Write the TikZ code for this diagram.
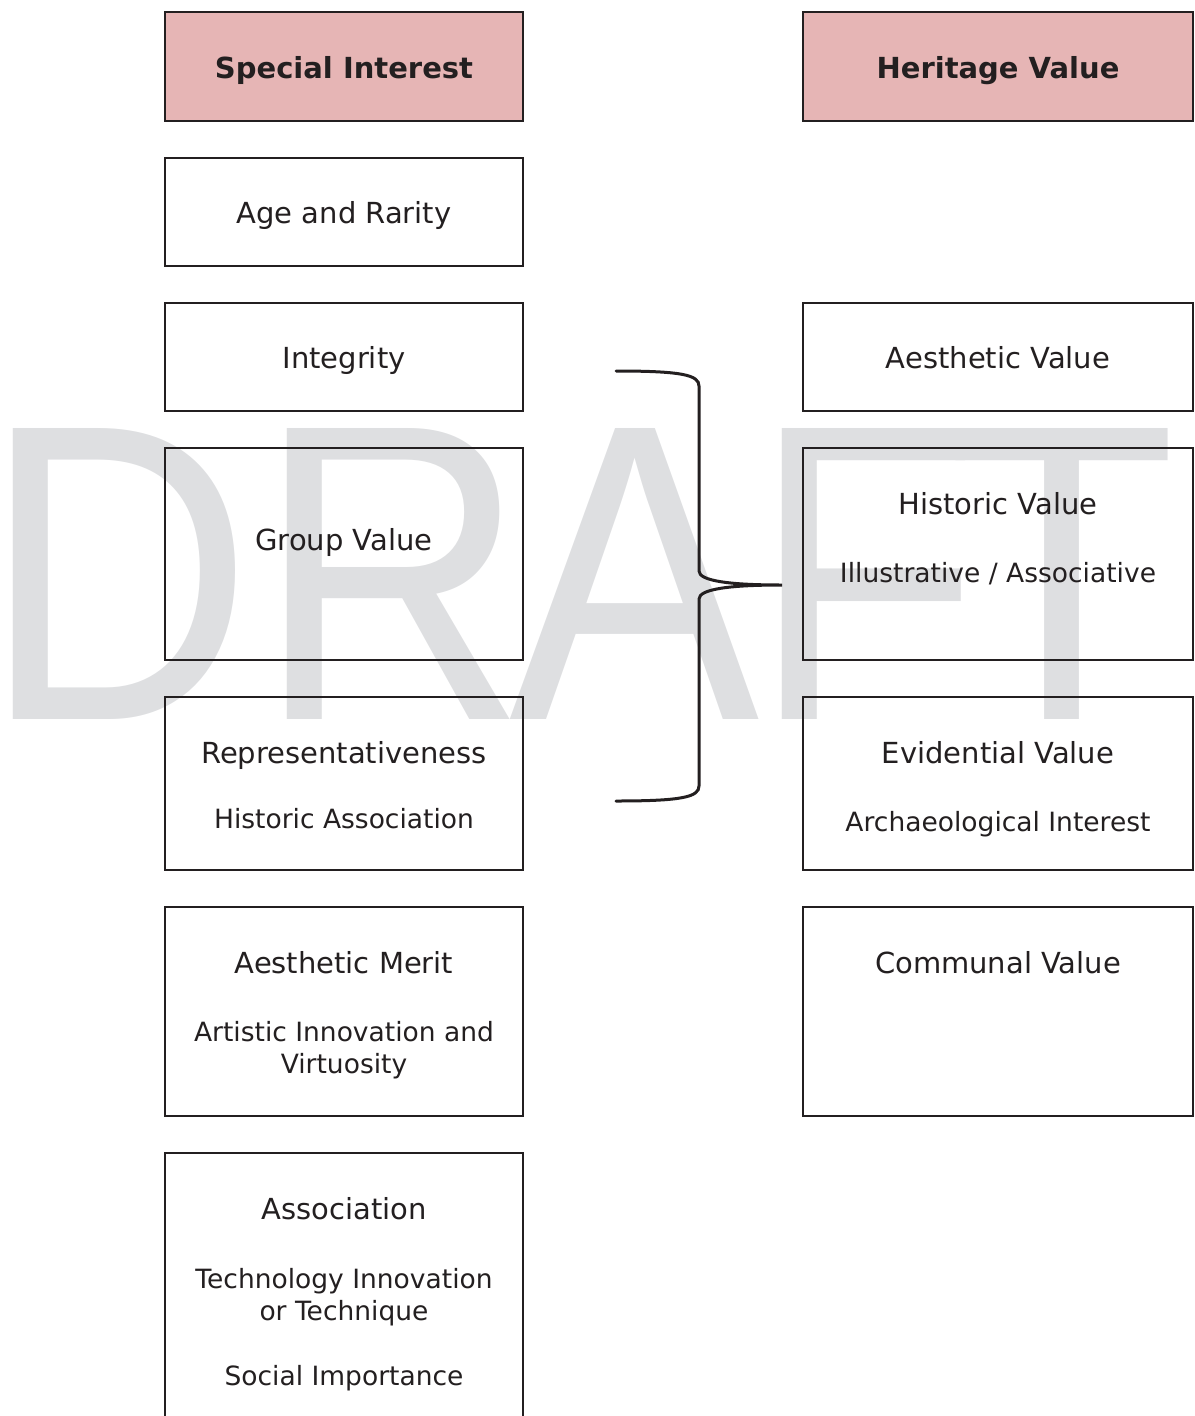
\documentclass[tikz,border=0pt]{standalone}
\usepackage{fontspec}
\setmainfont{DejaVu Sans}
\newfontfamily\markfont{Liberation Sans}
\usetikzlibrary{positioning}
\definecolor{InkDark}{HTML}{231F20}
\definecolor{HeadPink}{HTML}{E6B5B5}
\definecolor{MarkGray}{HTML}{DEDFE1}
\newcommand{\boxfont}{\fontsize{29}{35}\selectfont}
\newcommand{\smallboxfont}{\fontsize{26.5}{32.5}\selectfont}
\newcommand{\headerfont}{\fontsize{29}{35}\selectfont\bfseries}

\begin{document}
\begin{tikzpicture}[
    x=1pt, y=-1pt,
    node distance=35pt,
    box/.style={rectangle, draw=InkDark, line width=2pt, minimum width=358pt, inner sep=0pt, align=center, text height=23pt, text depth=0pt, font=\boxfont, text=InkDark},
    widebox/.style={minimum width=390pt},
    head/.style={box, fill=HeadPink, minimum height=109pt, font=\headerfont},
    boxtitle/.style={anchor=base, inner sep=0pt, font=\boxfont, text=InkDark},
    boxsub/.style={anchor=base, inner sep=0pt, align=center, font=\smallboxfont, text=InkDark},
    wmark/.style={anchor=base west, inner sep=0pt, font={\markfont\fontsize{423}{423}\selectfont}, text=MarkGray, xscale=0.887, transform shape},
    brace/.style={draw=InkDark, line width=3pt, line cap=round}
]
\useasboundingbox (0,0) rectangle (1194,1416);

% watermark
\node[wmark] (wmD) at (-18,719) {D};
\node[wmark] (wmR) at (256,719) {R};
\node[wmark] (wmA) at (509,719) {A};
\node[wmark] (wmF) at (751,719) {F};
\node[wmark] (wmT) at (947,719) {T};

% left column
\node[head] (special) at (344,66.5) {Special Interest};
\node[box, minimum height=108pt, below=of special] (age) {Age and Rarity};
\node[box, minimum height=108pt, below=of age] (integrity) {Integrity};
\node[box, minimum height=212pt, below=of integrity] (group) {};
\node[box, minimum height=173pt, below=of group] (repr) {};
\node[box, minimum height=209pt, below=of repr] (merit) {};
\node[box, minimum height=300pt, below=of merit] (assoc) {};

\node[boxtitle] (groupT) at ([yshift=-103pt]group.north) {Group Value};
\node[boxtitle] (reprT) at ([yshift=-67pt]repr.north) {Representativeness};
\node[boxsub] (reprS) at ([yshift=-132pt]repr.north) {Historic Association};
\node[boxtitle] (meritT) at ([yshift=-67pt]merit.north) {Aesthetic Merit};
\node[boxsub, anchor=north] (meritS) at ([yshift=-115pt]merit.north) {Artistic Innovation and\\Virtuosity};
\node[boxtitle] (assocT) at ([yshift=-67pt]assoc.north) {Association};
\node[boxsub, anchor=north] (assocS) at ([yshift=-116pt]assoc.north) {Technology Innovation\\or Technique};
\node[boxsub] (assocU) at ([yshift=-233pt]assoc.north) {Social Importance};

% right column
\node[head, widebox, right=278pt of special] (heritage) {Heritage Value};
\node[box, widebox, minimum height=108pt, right=278pt of integrity] (aesthetic) {Aesthetic Value};
\node[box, widebox, minimum height=212pt, below=of aesthetic] (historic) {};
\node[box, widebox, minimum height=173pt, below=of historic] (evidential) {};
\node[box, widebox, minimum height=209pt, below=of evidential] (communal) {};

\node[boxtitle] (historicT) at ([yshift=-67pt]historic.north) {Historic Value};
\node[boxsub] (historicS) at ([yshift=-135pt]historic.north) {Illustrative / Associative};
\node[boxtitle] (evidentialT) at ([yshift=-67pt]evidential.north) {Evidential Value};
\node[boxsub] (evidentialS) at ([yshift=-135pt]evidential.north) {Archaeological Interest};
\node[boxtitle] (communalT) at ([yshift=-67pt]communal.north) {Communal Value};

% brace
\coordinate (braceTop) at (616,371);
\coordinate (braceTip) at (782,585);
\coordinate (braceBot) at (616,801);
\draw[brace] (braceTop) .. controls (682,371) and (699,375) .. (699,386)
    -- (699,571) .. controls (699,581) and (730,585) .. (braceTip)
    .. controls (730,585) and (699,589) .. (699,599)
    -- (699,786) .. controls (699,797) and (682,801) .. (braceBot);

\end{tikzpicture}
\end{document}
